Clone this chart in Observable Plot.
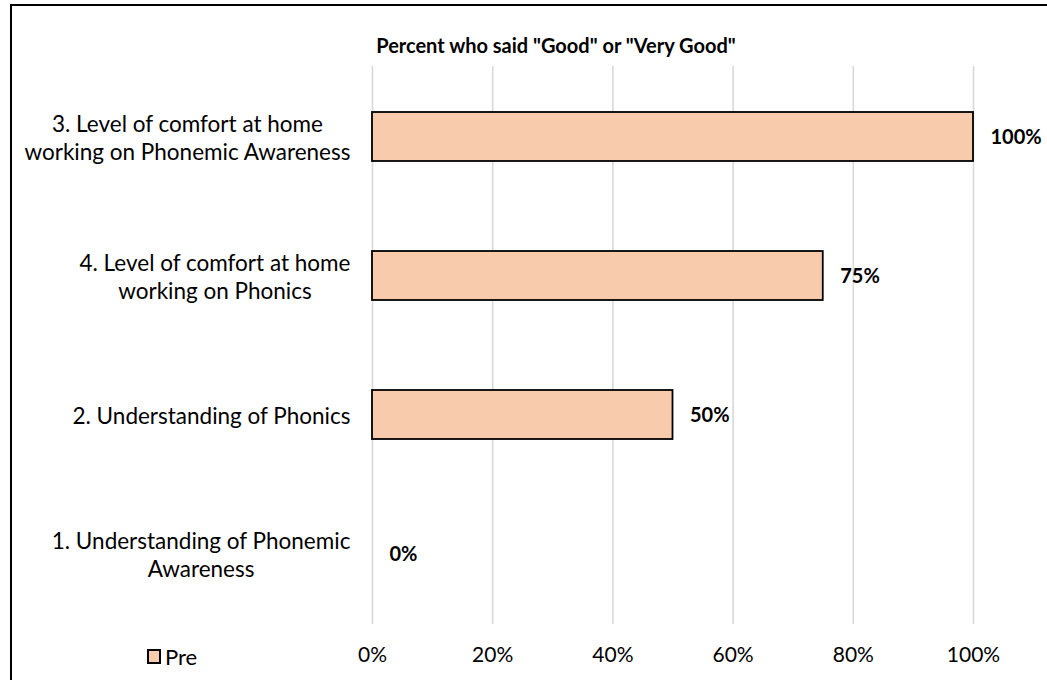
<!DOCTYPE html>
<html>
<head>
<meta charset="utf-8">
<script src="https://cdn.jsdelivr.net/npm/d3@7"></script>
<script src="https://cdn.jsdelivr.net/npm/@observablehq/plot@0.6"></script>
<style>
  html, body { margin: 0; padding: 0; background: #fff; }
  body { width: 1047px; height: 680px; position: relative; overflow: hidden; font-family: Lato, "Liberation Sans", sans-serif; color: #000; }
  #frame { position: absolute; left: 10px; top: 4px; width: 1100px; height: 720px; border: 2px solid #000; box-sizing: border-box; }
  #title { position: absolute; left: 336px; width: 440px; top: 33px; text-align: center; font-weight: bold; font-size: 20px; }
  #chart { position: absolute; left: 0; top: 0; }
  #legend { position: absolute; left: 147px; top: 643px; font-size: 22px; display: flex; align-items: center; }
  #legend .sw { width: 10px; height: 11px; border: 2px solid #000; background: #F8CBAD; margin-right: 4px; }
</style>
</head>
<body>
<div id="frame"></div>
<div id="chart"></div>
<div id="title">Percent who said "Good" or "Very Good"</div>
<div id="legend"><span class="sw"></span><span id="legendLabel"></span></div>
<script>
// ---- data ----
const categories = [
  "3. Level of comfort at home\nworking on Phonemic Awareness",
  "4. Level of comfort at home\nworking on Phonics",
  "2. Understanding of Phonics",
  "1. Understanding of Phonemic\nAwareness"
];
const preValues = [1.00, 0.75, 0.50, 0.00];
const seriesName = "Pre";
const xTicks = [0, 0.2, 0.4, 0.6, 0.8, 1.0];
const xTickLabels = ["0%", "20%", "40%", "60%", "80%", "100%"];

const data = categories.map((c, i) => ({category: c, value: preValues[i]}));
const pct = v => Math.round(v * 100) + "%";

document.getElementById("legendLabel").textContent = seriesName;

const plot = Plot.plot({
  width: 1047,
  height: 680,
  marginLeft: 372,
  marginRight: 74,
  marginTop: 66,
  marginBottom: 56,
  style: {fontFamily: "Lato, 'Liberation Sans', sans-serif", fontSize: "20px", color: "#000", background: "transparent"},
  x: {domain: [0, 1], label: null},
  y: {domain: categories, paddingInner: 0.645, paddingOuter: 0.3225, label: null},
  marks: [
    Plot.gridX(xTicks, {stroke: "#D9D9D9", strokeOpacity: 1, strokeWidth: 1.6}),
    Plot.barX(data.filter(d => d.value > 0), {x: "value", y: "category", fill: "#F8CBAD", stroke: "#000", strokeWidth: 1.8}),
    Plot.text(data, {x: "value", y: "category", text: d => pct(d.value), dx: 17, dy: 1, textAnchor: "start", fontWeight: "bold", fontSize: 20, fill: "#000"}),
    Plot.axisX({ticks: xTicks, tickFormat: (d, i) => xTickLabels[i], tickSize: 0, tickPadding: 23, fontSize: 21, fill: "#000", anchor: "bottom", label: null}),
    Plot.axisY({tickSize: 0, tickPadding: 22, textAnchor: "middle", lineHeight: 1.27, fontSize: 22.5, fill: "#000", anchor: "left", label: null})
  ]
});
document.getElementById("chart").appendChild(plot);

function alignYLabels() {
  const g = plot.querySelector('g[aria-label="y-axis tick label"]');
  if (!g) return;
  g.querySelectorAll("text").forEach(t => {
    if (!t.dataset.base) t.dataset.base = t.getAttribute("transform") || "";
    const w = t.getBBox().width;
    t.setAttribute("transform", t.dataset.base + ` translate(${-w / 2},0)`);
  });
}
alignYLabels();
if (document.fonts && document.fonts.ready) document.fonts.ready.then(alignYLabels);
</script>
</body>
</html>
